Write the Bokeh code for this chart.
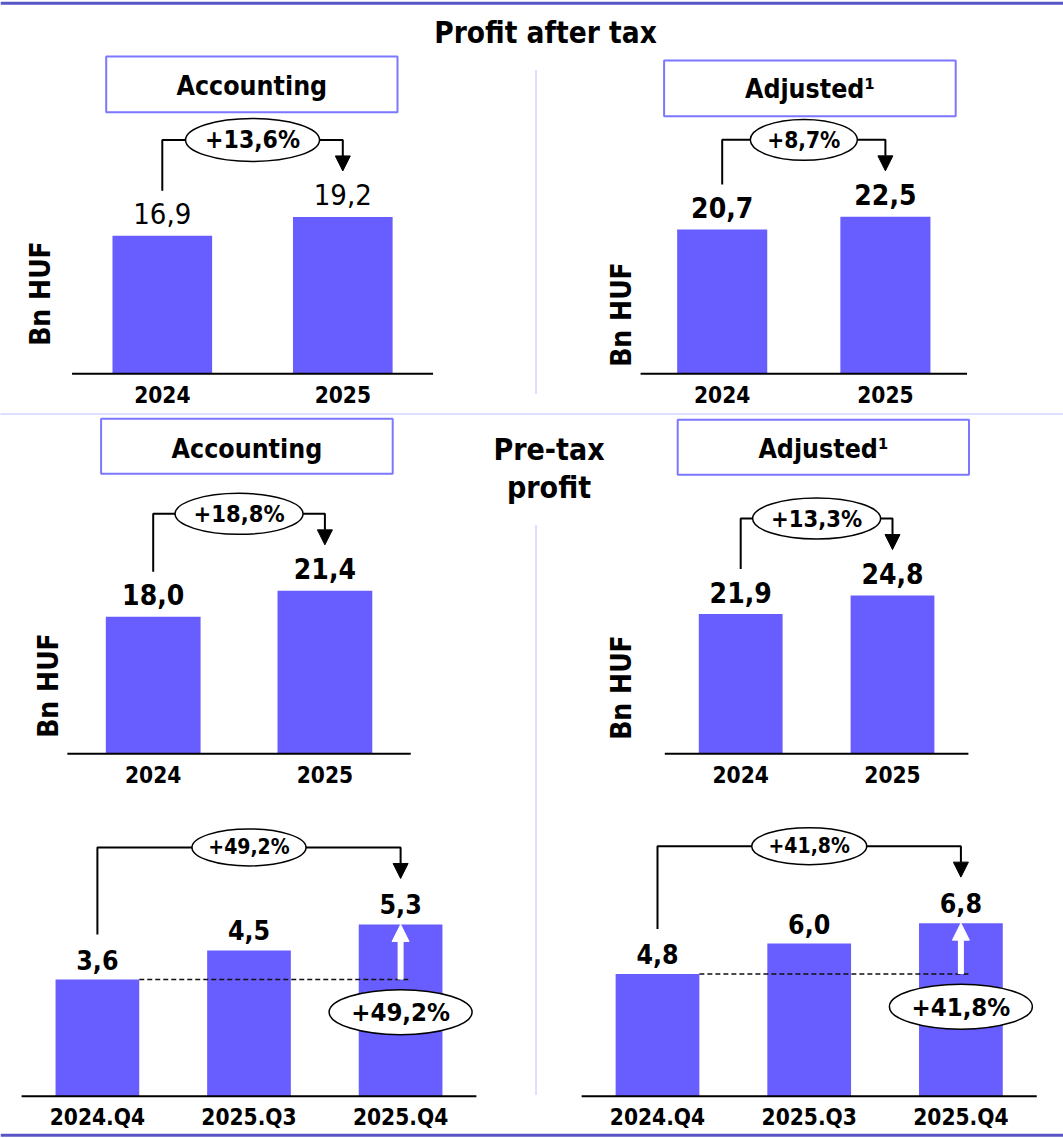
import math
from bokeh.plotting import figure
from bokeh.models import Range1d
from bokeh.core.properties import value
from bokeh.embed import file_html
from bokeh.resources import INLINE

# ---------------- data (Bn HUF) ----------------
years = ["2024", "2025"]
quarters = ["2024.Q4", "2025.Q3", "2025.Q4"]

pat_accounting = [16.9, 19.2]
pat_adjusted = [20.7, 22.5]
pbt_accounting = [18.0, 21.4]
pbt_adjusted = [21.9, 24.8]
pbt_accounting_q = [3.6, 4.5, 5.3]
pbt_adjusted_q = [4.8, 6.0, 6.8]

growth_pat_accounting = "+13,6%"
growth_pat_adjusted = "+8,7%"
growth_pbt_accounting = "+18,8%"
growth_pbt_adjusted = "+13,3%"
growth_pbt_accounting_q = "+49,2%"
growth_pbt_adjusted_q = "+41,8%"

title_pat = "Profit after tax"
title_pbt = ["Pre-tax", "profit"]
label_accounting = "Accounting"
label_adjusted = "Adjusted\u00b9"
unit_label = "Bn HUF"

# ---------------- styling ----------------
W, H = 1063, 1138
FONT = "DejaVu Sans Condensed"
BAR = "#685eff"
BOX_LINE = "#7b78ff"
RULE = "#5a55c6"
SEP = "#7c7cff"
BAR_W = 0.552


def fmt(v):
    return f"{v:.1f}".replace(".", ",")


p = figure(width=W, height=H, x_range=Range1d(0, W), y_range=Range1d(H, 0),
           x_axis_type=None, y_axis_type=None, output_backend="svg",
           toolbar_location=None, min_border=0, outline_line_color=None,
           background_fill_color="white", border_fill_color="white")
p.grid.visible = False


def txt(x, y, s, size, bold=True, align="center", **kw):
    p.text(x=x, y=y, text=s, text_font=value(FONT), text_font_size=f"{size}px",
           text_font_style="bold" if bold else "normal", text_color="black",
           text_align=align, text_baseline="middle", **kw)


# frame rules and dotted separators
p.segment(x0=[0, 0], x1=[W, W], y0=[2.7, 1134.7], y1=[2.7, 1134.7],
          line_color=RULE, line_width=3)
p.segment(x0=[535.5, 535.5, 0], x1=[535.5, 535.5, W], y0=[70, 525, 413.5],
          y1=[393, 1095, 413.5], line_color=SEP, line_width=1, line_dash="1 1")

# section titles
txt([545], [32], [title_pat], 29.5)
txt([548.5, 548.5], [449, 487], title_pbt, 30)

# panel header boxes
boxes = [
    (105.7, 397.0, 56.0, 111.7, label_accounting, 84.5),
    (663.6, 955.2, 60.0, 115.7, label_adjusted, 88),
    (100.6, 392.2, 418.3, 473.3, label_accounting, 448),
    (677.2, 968.5, 419.3, 474.3, label_adjusted, 448),
]
for l, r, t, b, lab, cy in boxes:
    p.quad(left=[l], right=[r], top=[t], bottom=[b], fill_color="white",
           line_color=BOX_LINE, line_width=2)
    txt([(l + r) / 2], [cy], [lab], 26.5)

# unit labels
for ux, uy in [(40, 293), (620.5, 314), (47.5, 685), (620.5, 687)]:
    txt([ux], [uy], [unit_label], 28, angle=math.pi / 2)

panels = [
    dict(key="pat_acc", cats=years, vals=pat_accounting, growth=growth_pat_accounting,
         c0=161.8, d=180.5, base=373.3, scale=8.17, bold_vals=False,
         val_size=29, val_gap=22, g_size=24.5, ell=(134, 43)),
    dict(key="pat_adj", cats=years, vals=pat_adjusted, growth=growth_pat_adjusted,
         c0=721.7, d=163.2, base=373.3, scale=6.975, bold_vals=True,
         val_size=28, val_gap=22, g_size=22.5, ell=(107, 41)),
    dict(key="pbt_acc", cats=years, vals=pbt_accounting, growth=growth_pbt_accounting,
         c0=152.7, d=171.7, base=753.3, scale=7.614, bold_vals=True,
         val_size=28, val_gap=22, g_size=23.5, ell=(128, 41)),
    dict(key="pbt_adj", cats=years, vals=pbt_adjusted, growth=growth_pbt_adjusted,
         c0=740.2, d=151.8, base=753.3, scale=6.38, bold_vals=True,
         val_size=28, val_gap=22, g_size=23.5, ell=(128, 41)),
    dict(key="pbt_acc_q", cats=quarters, vals=pbt_accounting_q, growth=growth_pbt_accounting_q,
         c0=96.9, d=151.6, base=1095.7, scale=32.4, bold_vals=True,
         val_size=26.5, val_gap=20, g_size=21, ell=(114, 37), quarterly=True),
    dict(key="pbt_adj_q", cats=quarters, vals=pbt_adjusted_q, growth=growth_pbt_adjusted_q,
         c0=657.0, d=151.7, base=1095.7, scale=25.45, bold_vals=True,
         val_size=26.5, val_gap=20, g_size=21, ell=(115, 37), quarterly=True),
]


def draw_panel(cfg):
    k, d, s = cfg["key"], cfg["d"], cfg["scale"]
    vals = cfg["vals"]
    n = len(vals)
    xs = list(range(n))
    p.extra_x_ranges[k] = Range1d(-cfg["c0"] / d, (W - cfg["c0"]) / d)
    p.extra_y_ranges[k] = Range1d(-(H - cfg["base"]) / s, cfg["base"] / s)
    rk = dict(x_range_name=k, y_range_name=k)

    p.vbar(x=xs, top=vals, bottom=0, width=BAR_W, fill_color=BAR, line_color=None, **rk)
    p.segment(x0=[-0.5], x1=[n - 0.5], y0=[0], y1=[0], line_color="black", line_width=2, **rk)
    txt(xs, [0] * n, cfg["cats"], 22.5, y_offset=21, **rk)
    txt(xs, vals, [fmt(v) for v in vals], cfg["val_size"], bold=cfg["bold_vals"],
        y_offset=-cfg["val_gap"], **rk)

    # growth bracket from the first to the last bar
    first, last = vals[0], vals[-1]
    tip = last + 46 / s
    top = last + 77 / s
    head_len, head_w = 15, 15
    p.line(x=[0, 0, n - 1, n - 1], y=[first + 45 / s, top, top, tip + head_len / s],
           line_color="black", line_width=2, **rk)
    p.patch(x=[n - 1 - head_w / 2 / d, n - 1 + head_w / 2 / d, n - 1],
            y=[tip + head_len / s, tip + head_len / s, tip], color="black", **rk)
    ew, eh = cfg["ell"]
    mid = (n - 1) / 2
    p.ellipse(x=[mid], y=[top], width=ew / d, height=eh / s, fill_color="white",
              line_color="black", line_width=1.5, **rk)
    txt([mid], [top], [cfg["growth"]], cfg["g_size"], **rk)

    if cfg.get("quarterly"):
        v0 = vals[0]
        p.segment(x0=[BAR_W / 2], x1=[n - 1 + 9 / d], y0=[v0], y1=[v0],
                  line_color="#111111", line_width=1.4, line_dash="5 3", **rk)
        hl = 17
        p.quad(left=[n - 1 - 3 / d], right=[n - 1 + 3 / d], bottom=[v0], top=[last - hl / s],
               fill_color="white", line_color=None, **rk)
        p.patch(x=[n - 1 - 8.5 / d, n - 1 + 8.5 / d, n - 1],
                y=[last - hl / s, last - hl / s, last], color="white", **rk)
        cy = v0 - 32.6 / s
        p.ellipse(x=[n - 1], y=[cy], width=143 / d, height=45 / s, fill_color="white",
                  line_color="black", line_width=1.5, **rk)
        txt([n - 1], [cy], [cfg["growth"]], 25.5, **rk)


for cfg in panels:
    draw_panel(cfg)

open("out.html", "w").write(file_html(p, INLINE))
